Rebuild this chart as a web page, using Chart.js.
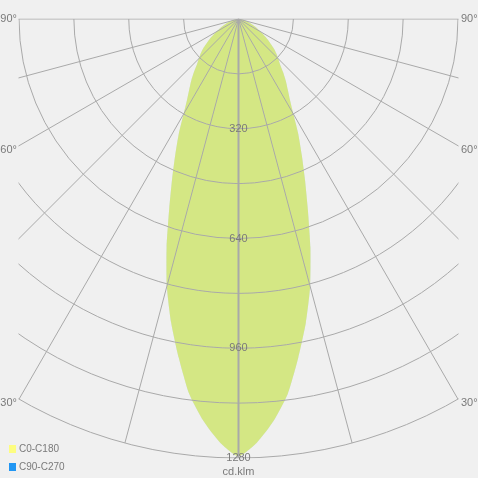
<!DOCTYPE html>
<html lang="en">
<head>
<meta charset="UTF-8">
<title>Polar intensity</title>
<script src="https://cdn.jsdelivr.net/npm/chart.js"></script>
<style>
    body { margin: 0; background: #f0f0f0; }
    canvas { display: block; }
</style>
</head>
<body>
<canvas id="polar" width="478" height="478"></canvas>
<script>
// angle from nadir in degrees, intensity in cd/klm
const angles = [0, 2.5, 5, 7.5, 10, 12.5, 15, 17.5, 20, 22.5, 25, 27.5, 30, 32.5, 35, 37.5, 40, 42.5, 45, 47.5, 50, 55, 60, 65, 70, 75, 80, 85, 90];
const c0c180 = [1275, 1236, 1176, 1102, 1003, 907, 807, 697, 591, 506, 436, 377, 320, 279, 250, 226, 202, 179, 164, 150, 135, 103, 75, 55, 38, 24, 13, 5, 0];
const c90c270 = [1275, 1236, 1176, 1102, 1003, 907, 807, 697, 591, 506, 436, 377, 320, 279, 250, 226, 202, 179, 164, 150, 135, 103, 75, 55, 38, 24, 13, 5, 0];
const ringValues = [160, 320, 480, 640, 800, 960, 1120, 1280];
const ringLabels = [320, 640, 960, 1280];
const spokeAngles = [-90, -75, -60, -45, -30, -15, 0, 15, 30, 45, 60, 75, 90];
const sideLabels = [90, 60, 30];
const unitLabel = 'cd.klm';
const maxValue = 1280;

function toXY(vals) {
    const pts = [];
    // left half from 90 down to 0, then right half 0 to 90
    for (let i = angles.length - 1; i >= 0; i--) {
        const a = -angles[i] * Math.PI / 180;
        pts.push({ x: vals[i] * Math.sin(a), y: -vals[i] * Math.cos(a) });
    }
    for (let i = 1; i < angles.length; i++) {
        const a = angles[i] * Math.PI / 180;
        pts.push({ x: vals[i] * Math.sin(a), y: -vals[i] * Math.cos(a) });
    }
    return pts;
}

const gridColor = '#a9a9a9';
const textColor = '#7a7a7a';
const font = "11px 'Liberation Sans', Arial, sans-serif";

const polarGrid = {
    id: 'polarGrid',
    afterDatasetsDraw(chart) {
        const ctx = chart.ctx;
        const xs = chart.scales.x, ys = chart.scales.y;
        const area = chart.chartArea;
        const cx = xs.getPixelForValue(0), cy = ys.getPixelForValue(0);
        const px = v => xs.getPixelForValue(v) - cx;

        ctx.save();
        ctx.beginPath();
        ctx.rect(area.left - 0.5, area.top - 0.5, area.right - area.left + 1, area.bottom - area.top + 1);
        ctx.clip();
        ctx.strokeStyle = gridColor;
        ctx.lineWidth = 1;
        ringValues.forEach(v => {
            ctx.beginPath();
            ctx.arc(cx, cy, px(v), 0, Math.PI);
            ctx.stroke();
        });
        spokeAngles.forEach(d => {
            const a = d * Math.PI / 180;
            const r = px(maxValue);
            ctx.lineWidth = d === 0 ? 2 : 1;
            ctx.beginPath();
            ctx.moveTo(cx, cy);
            ctx.lineTo(cx + r * Math.sin(a), cy + r * Math.cos(a));
            ctx.stroke();
        });
        ctx.restore();

        ctx.save();
        ctx.font = font;
        ctx.fillStyle = textColor;
        ctx.textAlign = 'center';
        ctx.textBaseline = 'middle';
        ringLabels.forEach(v => {
            ctx.fillText(String(v), cx, cy + px(v));
        });
        ctx.fillText(unitLabel, cx, area.bottom + 14);

        sideLabels.forEach(d => {
            const a = (90 - d) * Math.PI / 180;
            const half = area.right - cx;
            const y = cy + half * Math.tan(a) + (d === 90 ? 0 : 4);
            ctx.textAlign = 'right';
            ctx.fillText(d + '°', area.left - 2, y);
            ctx.textAlign = 'left';
            ctx.fillText(d + '°', area.right + 3, y);
        });

        // legend
        ctx.textAlign = 'left';
        ctx.font = "10px 'Liberation Sans', Arial, sans-serif";
        chart.data.datasets.forEach((ds, i) => {
            const y = 449 + i * 18;
            ctx.fillStyle = ds.legendColor;
            ctx.fillRect(9, y - 4, 7, 8);
            ctx.fillStyle = textColor;
            ctx.fillText(ds.label, 19, y);
        });
        ctx.restore();
    }
};

new Chart(document.getElementById('polar'), {
    type: 'scatter',
    data: {
        datasets: [{
            label: 'C0-C180',
            data: toXY(c0c180),
            showLine: true,
            fill: 'shape',
            backgroundColor: 'rgba(255,255,0,0.46)',
            borderWidth: 0,
            pointRadius: 0,
            tension: 0.2,
            legendColor: '#fdfd80'
        }, {
            label: 'C90-C270',
            data: toXY(c90c270),
            showLine: true,
            fill: 'shape',
            backgroundColor: 'rgba(30,144,255,0.3)',
            borderWidth: 0,
            pointRadius: 0,
            tension: 0.2,
            legendColor: '#2196f3'
        }]
    },
    options: {
        responsive: false,
        animation: false,
        devicePixelRatio: 1,
        layout: { padding: { left: 19, top: 19, right: 20, bottom: 20 } },
        scales: {
            x: { display: false, min: -640, max: 640 },
            y: { display: false, min: -1280, max: 0 }
        },
        plugins: {
            legend: { display: false },
            tooltip: { enabled: false }
        }
    },
    plugins: [polarGrid]
});
</script>
</body>
</html>
